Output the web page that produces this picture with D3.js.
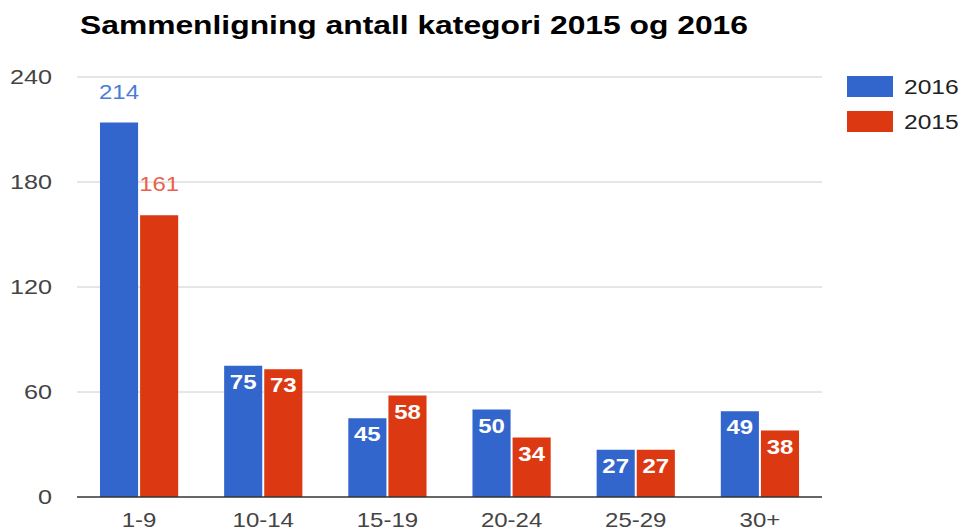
<!DOCTYPE html>
<html>
<head>
<meta charset="utf-8">
<script src="https://cdn.jsdelivr.net/npm/d3@7"></script>
<style>
  body { margin: 0; background: #fff; }
  text { font-family: "Liberation Sans", Arial, sans-serif; }
</style>
</head>
<body>
<div class="canvas"></div>
<script>
// data
const categories = ["1-9", "10-14", "15-19", "20-24", "25-29", "30+"];
const seriesNames = ["2016", "2015"];
const values2016 = [214, 75, 45, 50, 27, 49];
const values2015 = [161, 73, 58, 34, 27, 38];
const yTicks = [0, 60, 120, 180, 240];

// margins and dimensions
const w = 961;
const h = 531;
const margin = { top: 77, right: 139, bottom: 34, left: 77 };
const graphWidth = w - margin.left - margin.right;
const graphHeight = h - margin.top - margin.bottom;

// the reference text is a bit wider than it is tall
const sx = 1.2;
const at = (px, py, s = sx) => `translate(${px}, ${py}) scale(${s}, 1)`;

const colors = { "2016": "#3366cc", "2015": "#dc3912" };
const outsideColors = { "2016": "#4a7bdb", "2015": "#e8614a" };

const svg = d3.select(".canvas").append("svg").attr("width", w).attr("height", h);

// title
svg
  .append("text")
  .attr("transform", at(80, 34, 1.2))
  .attr("font-size", 26.5)
  .attr("font-weight", "bold")
  .attr("fill", "#000")
  .text("Sammenligning antall kategori 2015 og 2016");

const graph = svg.append("g").attr("transform", `translate(${margin.left}, ${margin.top})`);

const x = d3.scaleBand().domain(categories).range([0, graphWidth]).paddingInner(0.37).paddingOuter(0.185);
const x1 = d3.scaleBand().domain(seriesNames).range([0, x.bandwidth()]).paddingInner(0.05);
const y = d3.scaleLinear().domain([0, 240]).range([graphHeight, 0]);

// gridlines
graph
  .selectAll("line.grid")
  .data(yTicks.filter((t) => t > 0))
  .enter()
  .append("line")
  .attr("class", "grid")
  .attr("x1", 0)
  .attr("x2", graphWidth)
  .attr("y1", (d) => y(d))
  .attr("y2", (d) => y(d))
  .attr("stroke", "#cccccc")
  .attr("stroke-width", 1);

// y tick labels
graph
  .selectAll("text.ytick")
  .data(yTicks)
  .enter()
  .append("text")
  .attr("class", "ytick")
  .attr("transform", (d) => at(-25, y(d)))
  .attr("dy", "0.35em")
  .attr("text-anchor", "end")
  .attr("font-size", 21)
  .attr("fill", "#444")
  .text((d) => d);

// rows for grouped bars
const rows = categories.map((c, i) => ({
  category: c,
  items: [
    { series: "2016", value: values2016[i] },
    { series: "2015", value: values2015[i] },
  ],
}));

const groups = graph
  .selectAll("g.group")
  .data(rows)
  .enter()
  .append("g")
  .attr("class", "group")
  .attr("transform", (d) => `translate(${x(d.category)}, 0)`);

groups
  .selectAll("rect")
  .data((d) => d.items)
  .enter()
  .append("rect")
  .attr("x", (d) => x1(d.series))
  .attr("y", (d) => y(d.value))
  .attr("width", x1.bandwidth())
  .attr("height", (d) => graphHeight - y(d.value))
  .attr("fill", (d) => colors[d.series]);

// value labels: inside when the bar is short, above otherwise
const insideLimit = 100;
groups
  .selectAll("text.val")
  .data((d) => d.items)
  .enter()
  .append("text")
  .attr("class", "val")
  .attr("transform", (d) =>
    at(x1(d.series) + x1.bandwidth() / 2, d.value < insideLimit ? y(d.value) + 16 : y(d.value) - 31)
  )
  .attr("dy", "0.35em")
  .attr("text-anchor", "middle")
  .attr("font-size", 20)
  .attr("font-weight", (d) => (d.value < insideLimit ? "bold" : "normal"))
  .attr("fill", (d) => (d.value < insideLimit ? "#fff" : outsideColors[d.series]))
  .text((d) => d.value);

// baseline
graph
  .append("line")
  .attr("x1", 0)
  .attr("x2", graphWidth)
  .attr("y1", y(0))
  .attr("y2", y(0))
  .attr("stroke", "#333")
  .attr("stroke-width", 1.5);

// x labels
graph
  .selectAll("text.xlab")
  .data(categories)
  .enter()
  .append("text")
  .attr("class", "xlab")
  .attr("transform", (d) => at(x(d) + x.bandwidth() / 2, graphHeight + 23))
  .attr("dy", "0.35em")
  .attr("text-anchor", "middle")
  .attr("font-size", 20)
  .attr("fill", "#444")
  .text((d) => d);

// legend
const legend = svg.append("g").attr("transform", "translate(847, 76)");
const item = legend
  .selectAll("g")
  .data(seriesNames)
  .enter()
  .append("g")
  .attr("transform", (d, i) => `translate(0, ${i * 35})`);
item.append("rect").attr("width", 46).attr("height", 21).attr("fill", (d) => colors[d]);
item
  .append("text")
  .attr("transform", at(57, 11))
  .attr("dy", "0.35em")
  .attr("font-size", 20.5)
  .attr("fill", "#222")
  .text((d) => d);
</script>
</body>
</html>
